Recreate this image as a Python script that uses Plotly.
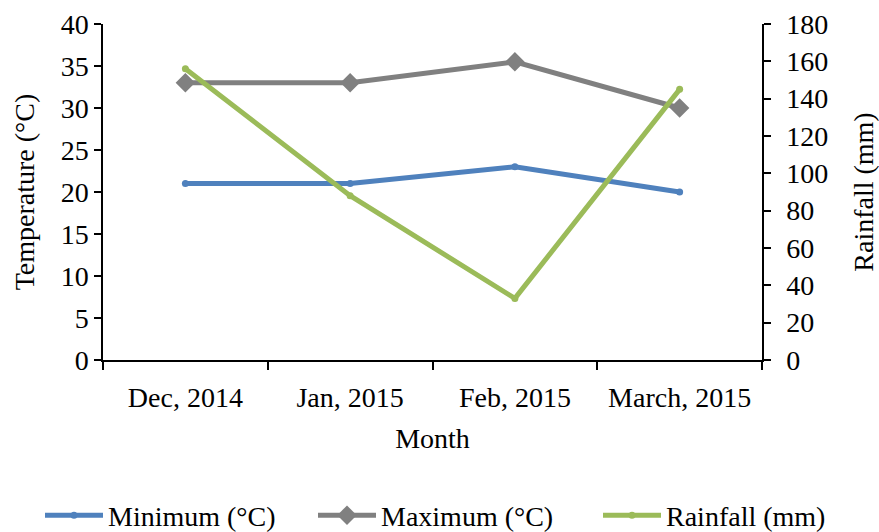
import plotly.graph_objects as go

months = ["Dec, 2014", "Jan, 2015", "Feb, 2015", "March, 2015"]
minimum = [21, 21, 23, 20]
maximum = [33, 33, 35.5, 30]
rainfall = [156, 88, 33, 145]

FONT = "Liberation Serif"
FS = 28

fig = go.Figure()
fig.add_trace(go.Scatter(x=months, y=minimum, name="Minimum (°C)", mode="lines+markers",
                         legend="legend",
                         line=dict(color="#4F81BD", width=5),
                         marker=dict(symbol="circle", size=7, color="#4F81BD")))
fig.add_trace(go.Scatter(x=months, y=maximum, name="Maximum (°C)", mode="lines+markers",
                         legend="legend2",
                         line=dict(color="#808080", width=5),
                         marker=dict(symbol="diamond", size=15, color="#808080")))
fig.add_trace(go.Scatter(x=months, y=rainfall, name="Rainfall (mm)", mode="lines+markers",
                         yaxis="y2", legend="legend3",
                         line=dict(color="#9BBB59", width=5),
                         marker=dict(symbol="circle", size=7, color="#9BBB59")))

def leg(x):
    return dict(orientation="h", x=x, xref="container", xanchor="left",
                y=0.031, yref="container", yanchor="middle",
                font=dict(family=FONT, size=FS, color="black"),
                bgcolor="rgba(0,0,0,0)", itemwidth=58, tracegroupgap=0)

fig.update_layout(
    width=879, height=532,
    margin=dict(l=103, r=117, t=24, b=172, autoexpand=False),
    paper_bgcolor="white", plot_bgcolor="white",
    font=dict(family=FONT, size=FS, color="black"),
    showlegend=True,
    legend=leg(40 / 879),
    legend2=leg(313 / 879),
    legend3=leg(598 / 879),
    xaxis=dict(
        type="category", range=[-0.5, 3.5],
        showline=True, linecolor="black", linewidth=1.5,
        ticks="outside", tickson="boundaries", ticklen=8, tickcolor="black", tickwidth=1.5,
        showgrid=False, zeroline=False, ticklabelstandoff=12,
        title=dict(text="Month", font=dict(family=FONT, size=FS), standoff=16),
        tickfont=dict(family=FONT, size=FS),
    ),
    yaxis=dict(
        range=[0, 40], dtick=5,
        showline=True, linecolor="black", linewidth=1.5,
        ticks="outside", ticklen=7, tickcolor="black", tickwidth=1.5,
        showgrid=False, zeroline=False,
        title=dict(text="Temperature (°C)", font=dict(family=FONT, size=FS), standoff=18),
        tickfont=dict(family=FONT, size=FS),
    ),
    yaxis2=dict(
        range=[0, 180], dtick=20, overlaying="y", side="right",
        showline=True, linecolor="black", linewidth=1.5,
        ticks="outside", ticklen=7, tickcolor="black", tickwidth=1.5,
        showgrid=False, zeroline=False, ticklabelstandoff=10,
        title=dict(text="Rainfall (mm)", font=dict(family=FONT, size=FS), standoff=28),
        tickfont=dict(family=FONT, size=FS),
    ),
)

fig.write_html("out.html")
